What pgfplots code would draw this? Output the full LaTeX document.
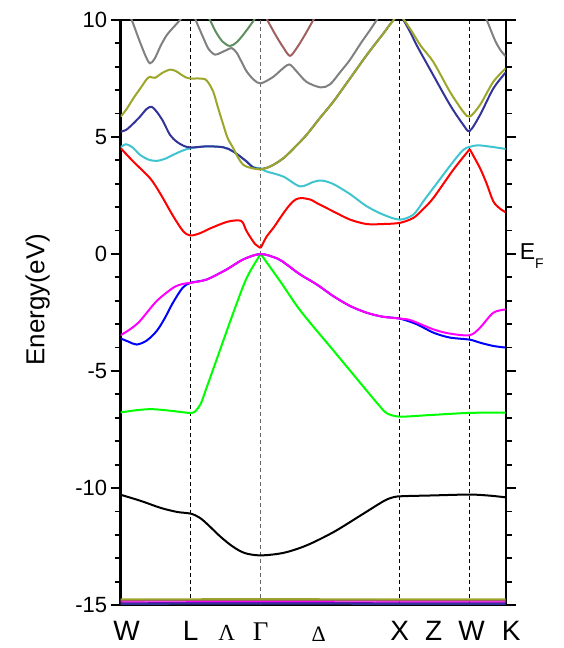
\documentclass[border=0pt]{standalone}
\usepackage{fontspec}
\setmainfont{Liberation Sans}
\newfontfamily\greekfont{Liberation Serif}
\usepackage{pgfplots}
\pgfplotsset{compat=1.18}
\definecolor{bcyan}{RGB}{64,196,208}
\definecolor{bnavy}{RGB}{51,51,153}
\definecolor{bolive}{RGB}{156,166,42}
\definecolor{bgray}{RGB}{128,128,128}
\definecolor{bdgreen}{RGB}{95,143,95}
\definecolor{bbrown}{RGB}{160,96,96}
\definecolor{bpurple}{RGB}{128,0,192}
\definecolor{bmag}{RGB}{255,0,255}
\definecolor{bgreen}{RGB}{0,255,0}
\definecolor{bred}{RGB}{255,0,0}
\definecolor{bblue}{RGB}{0,0,255}

\begin{document}
\begin{tikzpicture}
\begin{axis}[
  scale only axis, width=385pt, height=585pt,
  xmin=0, xmax=385, ymin=-15, ymax=10,
  clip mode=individual,
  axis line style={line width=2.4pt},
  tick style={black, line width=1.8pt},
  major tick length=10pt, minor tick length=6pt,
  ytick={-15,-10,-5,0,5,10},
  yticklabels={-15,-10,-5,0,5,10},
  minor y tick num=4,
  ytick align=outside,
  yticklabel pos=left,
  yticklabel style={font=\fontsize{22}{22}\selectfont},
  xtick={6,70,106,140,198,279,313,351,385},
  xticklabels={W, L, {\greekfont\fontsize{23}{23}\selectfont Λ}, {\greekfont\fontsize{27}{27}\selectfont Γ}, {\greekfont\fontsize{22}{22}\selectfont\raisebox{-1.5pt}{Δ}}, X, Z, W, {\hspace*{11pt}K}},
  xtick style={draw=none},
  xtick align=inside,
  xticklabel style={font=\fontsize{28}{28}\selectfont, anchor=base, yshift=-35pt},
  ylabel={Energy(eV)},
  ylabel style={font=\fontsize{26}{26}\selectfont, at={(axis description cs:-0.216,0.522)}, anchor=center},
]

% high-symmetry lines
\addplot[black, line width=1pt, dash pattern=on 4pt off 3pt] coordinates {(70,-15) (70,10)};
\addplot[black!60, line width=1pt, dash pattern=on 4pt off 3pt] coordinates {(140,-15) (140,10)};
\addplot[black, line width=1pt, dash pattern=on 4pt off 3pt] coordinates {(279,-15) (279,10)};
\addplot[black, line width=1pt, dash pattern=on 4pt off 3pt] coordinates {(349,-15) (349,10)};

% semi-core levels
\addplot[bolive, line width=2pt] coordinates {(0,-14.76) (140,-14.75) (279,-14.76) (385,-14.76)};
\addplot[bbrown, line width=1.5pt] coordinates {(0,-14.82) (140,-14.81) (279,-14.82) (385,-14.82)};
\addplot[bmag, line width=1.2pt] coordinates {(0,-14.87) (140,-14.86) (279,-14.87) (385,-14.87)};
\addplot[bpurple, line width=1.2pt] coordinates {(0,-14.91) (140,-14.9) (279,-14.91) (385,-14.91)};
\addplot[bnavy, line width=2pt] coordinates {(0,-14.95) (140,-14.94) (279,-14.95) (385,-14.95)};

% s band
\addplot[black, line width=2pt, smooth] coordinates {
(0,-10.29) (20,-10.55) (40,-10.85) (56,-11.02) (66,-11.07) (72,-11.12) (80,-11.3)
(88,-11.6) (100,-12.09) (112,-12.5) (124,-12.78) (140,-12.88) (163,-12.77)
(186,-12.45) (213,-11.88) (240,-11.17) (263,-10.56) (273,-10.39) (282,-10.35)
(310,-10.32) (349,-10.28) (370,-10.33) (385,-10.4)};

% green
\addplot[bgreen, line width=2pt, smooth] coordinates {
(0,-6.77) (15,-6.68) (31,-6.63) (50,-6.7) (68,-6.79) (74,-6.74) (80,-6.4)
(86,-5.7) (99,-4.14) (112,-2.58) (126,-1.02) (140,0)};
\addplot[bgreen, line width=2pt, smooth] coordinates {
(140,0) (160,-1.2) (180,-2.44) (213,-4.14) (246,-5.84) (258,-6.45) (266,-6.8)
(279,-6.95) (310,-6.88) (349,-6.79) (385,-6.78)};

% blue
\addplot[bblue, line width=2pt, smooth] coordinates {
(0,-3.61) (8,-3.75) (16,-3.87) (26,-3.7) (36,-3.29) (44,-2.75) (52,-2.1)
(62,-1.44) (70,-1.23) (86,-1.09) (106,-0.66) (122.6,-0.23) (140,0) (157,-0.2)
(166,-0.45) (179.3,-0.87) (196,-1.3) (212.6,-1.8) (229.3,-2.22) (246,-2.51)
(262,-2.68) (279,-2.76) (296,-3.0) (312.6,-3.36) (329,-3.57) (349,-3.66)
(359.3,-3.79) (372.6,-3.93) (385,-4.0)};

% magenta
\addplot[bmag, line width=2pt, smooth] coordinates {
(0,-3.47) (10,-3.2) (19.3,-2.86) (36,-2.01) (52.6,-1.44) (62,-1.28) (70,-1.23)
(86,-1.09) (106,-0.66) (122.6,-0.23) (140,0) (157,-0.2) (166,-0.45)
(179.3,-0.87) (196,-1.3) (212.6,-1.8) (229.3,-2.22) (246,-2.51) (262,-2.68)
(279,-2.76) (290,-2.83) (312.6,-3.22) (329,-3.4) (349,-3.47) (359.3,-3.15)
(372.6,-2.51) (385,-2.37)};

% red
\addplot[bred, line width=2pt, smooth] coordinates {
(0,4.52) (12.6,3.95) (29.3,3.24) (39.3,2.6) (52.6,1.61) (62.6,0.97) (70,0.79)
(80,0.9) (89.3,1.09) (106,1.37) (117.6,1.44) (122,1.35) (126,0.97) (134.3,0.43)
(140,0.26)};
\addplot[bred, line width=2pt, smooth] coordinates {
(140,0.26) (146,0.75) (152.6,1.11) (162,1.7) (169.3,2.11) (175,2.33) (181,2.39)
(190,2.32) (196,2.18) (212.6,1.82) (229.3,1.47) (246,1.28) (262,1.28) (279,1.33)
(292.6,1.54) (302,1.9) (312.6,2.39) (332.6,3.6) (349,4.48)};
\addplot[bred, line width=2pt, smooth] coordinates {
(349,4.48) (359.3,3.67) (366,3.0) (372.6,2.25) (379,1.95) (385,1.78)};

% cyan
\addplot[bcyan, line width=2pt, smooth] coordinates {
(0,4.56) (5.3,4.69) (12,4.55) (19.3,4.24) (28,4.03) (36,3.98) (45,4.08)
(52.6,4.24) (62,4.42) (70,4.52) (86,4.6) (102.6,4.56) (112.6,4.38) (126,3.95)
(132,3.72) (140,3.65) (145.6,3.53) (162.6,3.31) (179.3,2.89) (192.6,3.08)
(201,3.14) (212.6,2.99) (229.3,2.56) (246,2.04) (262.6,1.68) (279,1.47)
(292.6,1.68) (302.6,2.25) (312.6,2.82) (332.6,3.95) (342.6,4.45) (349,4.58)
(359.3,4.64) (385,4.49)};

% navy
\addplot[bnavy, line width=2pt, smooth] coordinates {
(0,5.23) (5.3,5.3) (12,5.55) (19.3,5.87) (26,6.2) (31,6.29) (36,6.08) (42,5.7)
(49.3,5.09) (56,4.8) (62.6,4.63) (70,4.55) (86,4.6) (102.6,4.56) (112.6,4.38)
(126,3.95) (132,3.71) (140,3.63) (150,3.75) (162.6,4.09) (175,4.6) (186,5.1)
(199,5.8) (212.6,6.51) (229.3,7.5) (246,8.5) (262.6,9.42) (271,9.9) (279,10.2)
(289.3,9.5) (296,8.92) (312.6,7.64) (329.3,6.37) (342.6,5.52) (349,5.26)
(359.3,5.94) (372.6,7.07) (385,7.76)};

% olive
\addplot[bolive, line width=2pt, smooth] coordinates {
(0,5.87) (6,6.2) (12.6,6.65) (20,7.1) (26,7.47) (29.3,7.57) (34.3,7.53) (42,7.75)
(49.3,7.88) (55,7.82) (59.3,7.7) (65,7.55) (70,7.5) (78,7.5) (84.3,7.47) (88,7.3)
(92.6,6.93) (97,6.3) (102.6,5.52) (107,4.95) (112.6,4.52) (117,4.15) (122.6,3.81)
(130,3.68) (140,3.62) (150,3.75) (162.6,4.09) (175,4.6) (186,5.1) (199,5.8)
(212.6,6.51) (229.3,7.5) (246,8.5) (262.6,9.42) (271,9.9) (279,10.2) (289.3,9.63)
(300,8.9) (312.6,8.21) (329.3,6.93) (342.6,6.08) (349,5.87) (359.3,6.37)
(372.6,7.36) (385,7.93)};

% upper bands
\addplot[bgray, line width=2pt, smooth] coordinates {
(3,10.7) (11,10) (18,9.2) (25,8.45) (29.3,8.15) (34,8.35) (40,8.9) (46,9.35)
(53,9.7) (59.3,10) (66,10.4)};
\addplot[bgray, line width=2pt, smooth] coordinates {
(70,10.6) (75,10) (82,9.3) (88,8.75) (94.3,8.52) (100,8.6) (106,8.72) (111,8.8)
(116,8.6) (121,8.2) (126,7.8) (133,7.45) (140,7.29) (152.6,7.57) (160,7.85)
(168.6,8.1) (176,7.8) (186,7.35) (200,7.12) (209.3,7.25) (220,7.8) (229.3,8.3)
(240,9.0) (249,9.55) (256,10) (262,10.4)};
\addplot[bdgreen, line width=2pt, smooth] coordinates {
(84,10.4) (89.3,10) (95,9.5) (102,9.07) (109.3,8.89) (116,9.05) (124,9.45)
(133.3,10) (138,10.35)};
\addplot[bbrown, line width=2pt, smooth] coordinates {
(142,10.4) (146.6,10) (155,9.35) (163,8.8) (169.3,8.47) (176,8.8) (184,9.35)
(192.6,10) (197,10.35)};
\addplot[bgray, line width=2pt, smooth] coordinates {
(360,10.5) (366,10) (374.3,9.13) (380,8.7) (385,8.45)};

\node[anchor=base west, inner sep=0pt]
  at (axis cs:385,-0.25) [xshift=14pt] {\fontsize{23}{27}\selectfont E\raisebox{-9pt}{\fontsize{14}{16}\selectfont F}};
\end{axis}
\pgfresetboundingbox
\path ([xshift=-120.7pt,yshift=-43pt]current axis.south west) rectangle ++(564pt,648pt);
\end{tikzpicture}
\end{document}
